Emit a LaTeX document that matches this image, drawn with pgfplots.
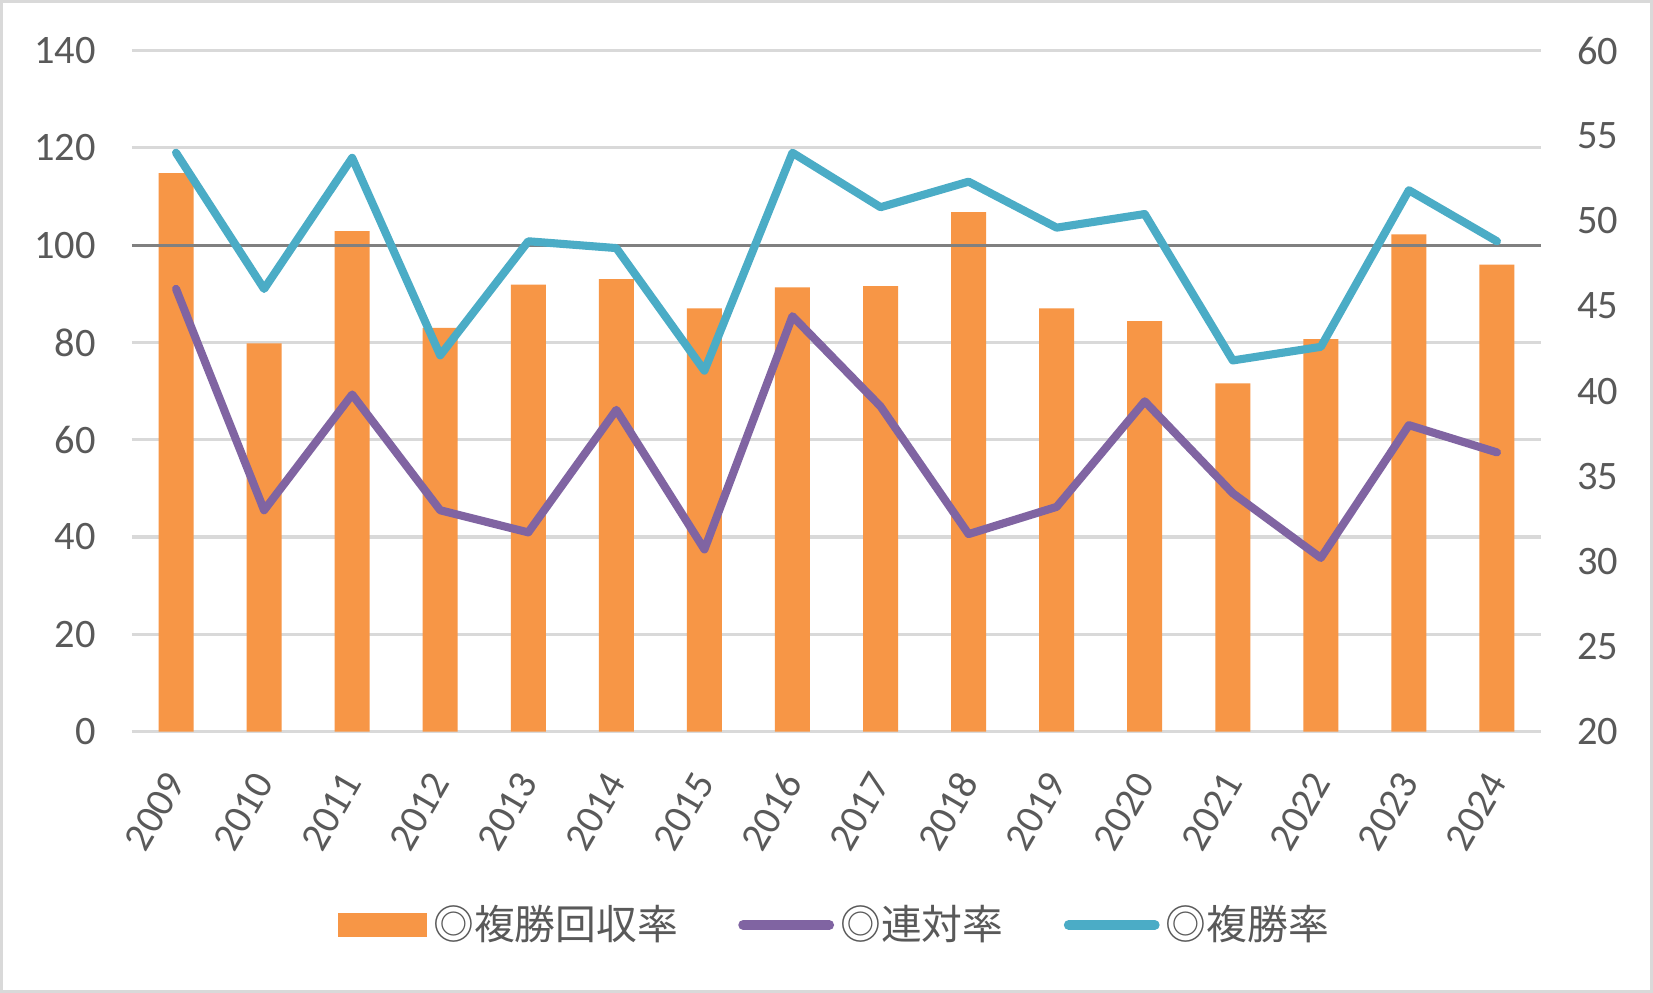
\documentclass[border=0pt]{standalone}
\usepackage{pgfplots}
\pgfplotsset{compat=1.18}
\usepackage{pgfplotstable}
\usepackage{fontspec}
\setmainfont{Carlito}
\newfontfamily\jp{Noto Sans CJK JP}
\definecolor{cOrange}{HTML}{F79646}
\definecolor{cPurple}{HTML}{8064A2}
\definecolor{cBlue}{HTML}{4BACC6}
\definecolor{cGrid}{HTML}{D9D9D9}
\definecolor{cLine}{HTML}{808080}
\definecolor{cText}{HTML}{595959}
\pgfplotstableread{
x year bar ren fuku
0 2009 114.8 46.0 54.0
1 2010 79.8 33.0 46.0
2 2011 102.9 39.8 53.7
3 2012 83.0 33.0 42.1
4 2013 91.9 31.7 48.8
5 2014 93.0 38.9 48.4
6 2015 87.0 30.7 41.2
7 2016 91.3 44.4 54.0
8 2017 91.6 39.1 50.8
9 2018 106.8 31.6 52.3
10 2019 87.0 33.2 49.6
11 2020 84.4 39.4 50.4
12 2021 71.6 34.0 41.8
13 2022 80.7 30.2 42.6
14 2023 102.2 38.0 51.8
15 2024 96.0 36.4 48.8
}\data
\pgfplotsset{
  common/.style={
    at={(1.32cm,2.614cm)}, anchor=south west,
    scale only axis, width=14.09cm, height=6.81cm,
    xmin=-0.5, xmax=15.5,
    axis line style={draw=none},
    major tick length=0pt,
    tick label style={text=cText, font=\fontsize{11.5}{13}\selectfont},
    /pgf/number format/assume math mode=true,
    yticklabel shift=6.8pt,
  }
}
\begin{document}
\begin{tikzpicture}
\useasboundingbox (0,0) rectangle (16.53cm,9.93cm);
\fill[white] (0,0) rectangle (16.53cm,9.93cm);
\draw[cGrid, line width=0.3mm] (0.15mm,0.15mm) rectangle (16.515cm,9.915cm);
\begin{axis}[common,
  ymin=0, ymax=140, ytick={0,20,...,140},
  xtick={0,...,15},
  xticklabels={2009,2010,2011,2012,2013,2014,2015,2016,2017,2018,2019,2020,2021,2022,2023,2024},
  xticklabel style={rotate=60, anchor=east, inner sep=0pt},
  xticklabel shift=12.5pt,
  ymajorgrids, grid style={cGrid, line width=0.9pt},
]
\addplot[ybar, bar width=0.35cm, fill=cOrange, draw=none] table[x=x,y=bar]{\data};
\addplot[cLine, line width=0.9pt] coordinates {(-0.5,100) (15.5,100)};
\end{axis}
\begin{axis}[common,
  ymin=20, ymax=60, ytick={20,25,...,60},
  axis y line*=right, axis x line=none,
  legend columns=3,
  legend style={at={(0.5,-0.284)}, anchor=center, draw=none, fill=none,
    font=\jp\fontsize{11.6}{13}\selectfont, text=cText,
    nodes={inner sep=1.8pt},
    /tikz/every even column/.append style={column sep=5.4mm}},
  legend image code/.code={\draw[#1, line width=2.8pt, line cap=round] (0.05cm,0cm) -- (0.91cm,0cm);},
]
\addlegendimage{legend image code/.code={\fill[cOrange] (0cm,-0.11cm) rectangle (0.88cm,0.11cm);}}
\addlegendentry{◎複勝回収率}
\addplot[cPurple, line width=2.3pt, line join=round, line cap=round] table[x=x,y=ren]{\data};
\addlegendentry{◎連対率}
\addplot[cBlue, line width=2.3pt, line join=round, line cap=round] table[x=x,y=fuku]{\data};
\addlegendentry{◎複勝率}
\end{axis}
\end{tikzpicture}
\end{document}
